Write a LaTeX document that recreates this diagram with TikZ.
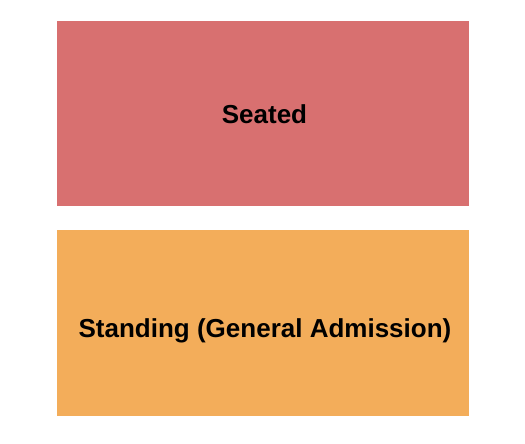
\documentclass[tikz,border=0pt]{standalone}
\usepackage{fontspec}
\setmainfont{Liberation Sans}
\definecolor{seatc}{HTML}{D87070}
\definecolor{standc}{HTML}{F3AD5A}
\tikzset{
  zone/.style={draw=none, inner sep=0pt, anchor=north west},
  lbl/.style={font=\bfseries\fontsize{26}{30}\selectfont, text=black, inner sep=0pt}
}
\begin{document}
\begin{tikzpicture}[x=1pt,y=-1pt]
\useasboundingbox (0,0) rectangle (525,444);
\node[zone, fill=seatc, minimum width=412pt, minimum height=185pt] (seated) at (57,21) {};
\node[zone, fill=standc, minimum width=412pt, minimum height=186pt] (standing) at (57,230) {};
\node[lbl] (seatedlbl) at (264.5,114) {Seated};
\node[lbl] (standinglbl) at (265,330.5) {Standing (General Admission)};
\end{tikzpicture}
\end{document}
